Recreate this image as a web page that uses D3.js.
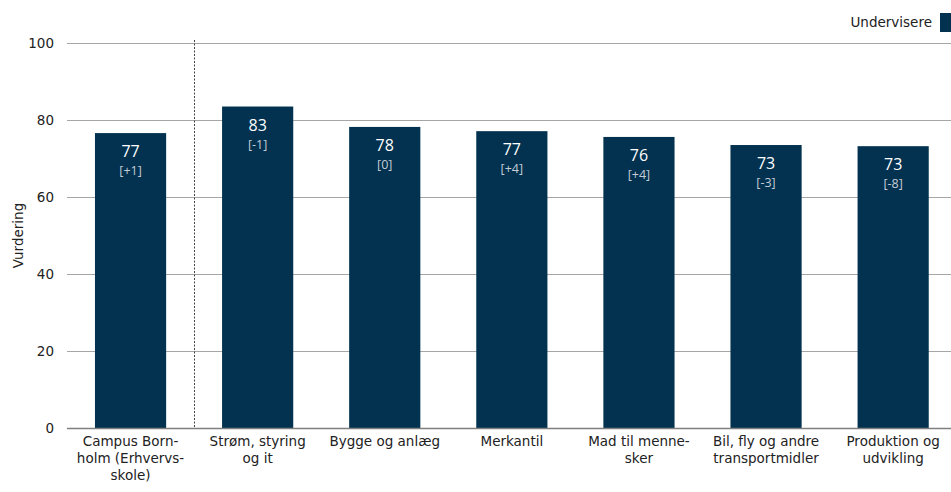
<!DOCTYPE html>
<html><head><meta charset="utf-8">
<script src="https://cdn.jsdelivr.net/npm/d3@7"></script>
<style>body{margin:0;background:#fff}svg{display:block}</style>
</head><body>
<svg id="c" width="951" height="492"></svg>
<script>
const categories = [
  ["Campus Born-","holm (Erhvervs-","skole)"],
  ["Strøm, styring","og it"],
  ["Bygge og anlæg"],
  ["Merkantil"],
  ["Mad til menne-","sker"],
  ["Bil, fly og andre","transportmidler"],
  ["Produktion og","udvikling"]
];
const values = [76.6, 83.5, 78.2, 77.1, 75.6, 73.5, 73.2];
const valueLabels = ["77","83","78","77","76","73","73"];
const changeLabels = ["[+1]","[-1]","[0]","[+4]","[+4]","[-3]","[-8]"];
const yTicks = [0,20,40,60,80,100];
const seriesName = "Undervisere";
const barColor = "#02324f";

(function(){
const svg = d3.select("#c");
const left = 67, step = 127.1, plotTop = 43, plotBottom = 428;
const x = d3.scaleBand().domain(d3.range(categories.length))
  .range([left, left + step*categories.length]).paddingInner(0.44).paddingOuter(0.22);
const y = d3.scaleLinear().domain([0,100]).range([plotBottom, plotTop]);
const font = "DejaVu Sans, Verdana, sans-serif";

// gridlines
svg.append("g").selectAll("line").data(yTicks.filter(d=>d>0)).join("line")
  .attr("x1", left).attr("x2", 951).attr("y1", d=>y(d)+0.5).attr("y2", d=>y(d)+0.5)
  .attr("stroke", "#a6a6a6").attr("stroke-width", 1);

// y axis labels
const yAxis = d3.axisLeft(y).tickValues(yTicks).tickSize(0).tickPadding(13);
const ga = svg.append("g").attr("transform", `translate(${left},0)`).call(yAxis);
ga.select(".domain").remove();
ga.selectAll("text").attr("font-family", font).attr("font-size", 13.5).attr("fill", "#222");

// y title
svg.append("text").attr("transform", `translate(23,${(plotTop+plotBottom)/2}) rotate(-90)`)
  .attr("text-anchor","middle").attr("font-family", font).attr("font-size", 13.5)
  .attr("fill","#222").text("Vurdering");

// separator dotted line
const sepX = (x(0)+x.bandwidth() + x(1))/2;
svg.append("line").attr("x1", Math.round(sepX)+0.5).attr("x2", Math.round(sepX)+0.5)
  .attr("y1", 40).attr("y2", plotBottom).attr("stroke","#444").attr("stroke-width",1)
  .attr("stroke-dasharray","2,1.5");

// bars
svg.append("g").selectAll("rect").data(values).join("rect")
  .attr("x", (d,i)=>x(i)).attr("width", x.bandwidth())
  .attr("y", d=>y(d)).attr("height", d=>y(0)-y(d)).attr("fill", barColor);

// baseline
svg.append("line").attr("x1", left).attr("x2", 951).attr("y1", plotBottom+0.5).attr("y2", plotBottom+0.5)
  .attr("stroke","#7f7f7f").attr("stroke-width",1.5);

// value labels
const lf = "Open Sans, Noto Sans, sans-serif";
svg.append("g").selectAll("text").data(values).join("text")
  .attr("x",(d,i)=>x(i)+x.bandwidth()/2).attr("y", d=>y(d)+24)
  .attr("text-anchor","middle").attr("font-family", lf).attr("font-size", 16)
  .attr("fill","#ffffff").text((d,i)=>valueLabels[i]);
svg.append("g").selectAll("text").data(values).join("text")
  .attr("x",(d,i)=>x(i)+x.bandwidth()/2).attr("y", d=>y(d)+42)
  .attr("text-anchor","middle").attr("font-family", lf).attr("font-size", 12.5)
  .attr("fill","#c4ccd6").text((d,i)=>changeLabels[i]);

// x labels
const gx = svg.append("g");
categories.forEach((lines,i)=>{
  const t = gx.append("text").attr("text-anchor","middle").attr("font-family", font)
    .attr("font-size", 13.5).attr("fill","#222");
  lines.forEach((l,j)=>{
    t.append("tspan").attr("x", x(i)+x.bandwidth()/2).attr("y", 446 + j*17).text(l);
  });
});

// legend
svg.append("rect").attr("x", 940).attr("y", 13).attr("width", 12).attr("height", 19).attr("fill", barColor);
svg.append("text").attr("x", 932).attr("y", 27).attr("text-anchor","end")
  .attr("font-family", font).attr("font-size", 13.5).attr("fill","#222").text(seriesName);
})();
</script>
</body></html>
